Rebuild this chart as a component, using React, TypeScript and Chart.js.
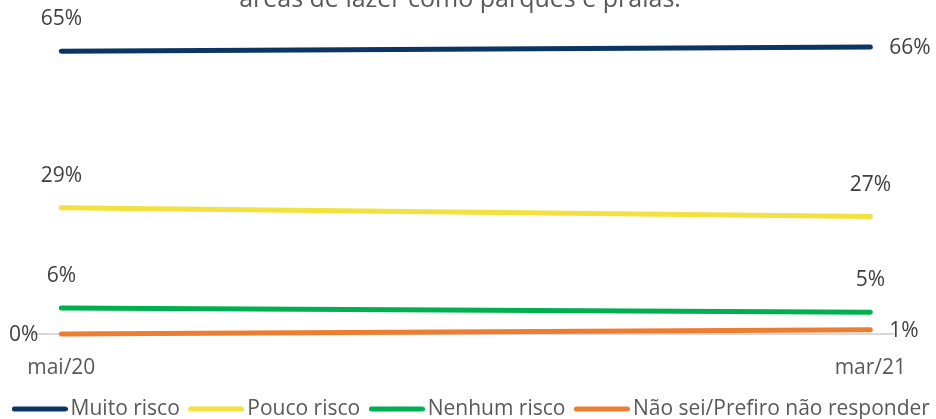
import React, { useEffect, useRef } from 'react';
import { Chart, registerables } from 'chart.js';

Chart.register(...registerables);

const periods = ['mai/20', 'mar/21'];
const muitoRisco = [65, 66];
const poucoRisco = [29, 27];
const nenhumRisco = [6, 5];
const naoSei = [0, 1];
const seriesNames = ['Muito risco', 'Pouco risco', 'Nenhum risco', 'Não sei/Prefiro não responder'];
const titleText = 'áreas de lazer como parques e praias.';

const seriesColors = ['#0b3563', '#f2e13f', '#00b050', '#ed7d31'];
const labelPositions = [
  ['top', 'right'],
  ['top', 'top'],
  ['top', 'top'],
  ['left', 'right'],
];

const FONT = '"Open Sans", "DejaVu Sans", sans-serif';

function makeSwatch(color: string) {
  const c = document.createElement('canvas');
  c.width = 56;
  c.height = 6;
  const g = c.getContext('2d')!;
  g.strokeStyle = color;
  g.lineWidth = 5;
  g.lineCap = 'round';
  g.beginPath();
  g.moveTo(2.5, 3);
  g.lineTo(53.5, 3);
  g.stroke();
  return c;
}

const titlePlugin = {
  id: 'cutTitle',
  afterDraw(chart: any) {
    const ctx = chart.ctx;
    ctx.save();
    ctx.font = `25px ${FONT}`;
    ctx.fillStyle = '#595959';
    ctx.textAlign = 'center';
    ctx.textBaseline = 'alphabetic';
    ctx.fillText(titleText, 460, 7);
    ctx.restore();
  },
};

const labelPlugin = {
  id: 'pointLabels',
  afterDatasetsDraw(chart: any) {
    const ctx = chart.ctx;
    ctx.save();
    ctx.font = `21px ${FONT}`;
    ctx.fillStyle = '#404040';
    ctx.textBaseline = 'middle';
    chart.data.datasets.forEach((ds: any, di: number) => {
      const meta = chart.getDatasetMeta(di);
      meta.data.forEach((pt: any, i: number) => {
        const v = ds.data[i].y;
        const pos = labelPositions[di][i];
        let x = pt.x;
        let y = pt.y;
        if (pos === 'top') {
          ctx.textAlign = 'center';
          y -= 32;
        } else if (pos === 'right') {
          ctx.textAlign = 'left';
          x += 19;
          y += 1;
        } else {
          ctx.textAlign = 'right';
          x -= 23;
          y += 1;
        }
        ctx.fillText(`${v}%`, x, y);
      });
    });
    ctx.restore();
  },
};

export default function App() {
  const ref = useRef<HTMLCanvasElement | null>(null);

  useEffect(() => {
    if (!ref.current) return;
    Chart.defaults.font.family = FONT;
    const seriesValues = [muitoRisco, poucoRisco, nenhumRisco, naoSei];
    const chart = new Chart(ref.current, {
      type: 'line',
      data: {
        datasets: seriesValues.map((vals, si) => ({
          label: seriesNames[si],
          data: vals.map((v, i) => ({ x: i, y: v })),
          borderColor: seriesColors[si],
          backgroundColor: seriesColors[si],
          borderWidth: 5,
          borderCapStyle: 'round',
          pointStyle: makeSwatch(seriesColors[si]),
          pointRadius: 0,
          pointHoverRadius: 0,
          tension: 0,
          clip: false,
        })),
      },
      options: {
        responsive: false,
        animation: false,
        events: [],
        layout: { padding: { top: 29.5, left: -20, right: -33, bottom: 0 } },
        scales: {
          x: {
            type: 'linear',
            min: -0.035,
            max: 1.028,
            afterBuildTicks: (scale: any) => {
              scale.ticks = periods.map((_, i) => ({ value: i }));
            },
            afterFit: (scale: any) => {
              scale.height = 48.5;
            },
            ticks: {
              callback: (value: any) => periods[value as number] ?? '',
              color: '#595959',
              font: { size: 21, family: FONT },
              padding: 21,
              maxRotation: 0,
              autoSkip: false,
            },
            grid: { display: false, drawTicks: false },
            border: { display: true, color: '#d9d9d9', width: 2 },
          },
          y: {
            position: 'left',
            min: 0,
            max: 70,
            ticks: { display: false },
            grid: { display: false, drawTicks: false },
            border: { display: false },
            afterFit: (scale: any) => {
              scale.width = 53;
            },
          },
          y2: {
            position: 'right',
            min: 0,
            max: 70,
            ticks: { display: false },
            grid: { display: false, drawTicks: false },
            border: { display: false },
            afterFit: (scale: any) => {
              scale.width = 76;
            },
          },
        },
        plugins: {
          title: { display: false },
          tooltip: { enabled: false },
          legend: {
            display: true,
            position: 'bottom',
            maxHeight: 36.5,
            labels: {
              usePointStyle: true,
              pointStyleWidth: 41,
              padding: 16,
              color: '#595959',
              font: { size: 21, family: FONT },
            },
          },
        },
      } as any,
      plugins: [titlePlugin, labelPlugin],
    });
    return () => chart.destroy();
  }, []);

  return (
    <div style={{ position: 'absolute', left: 0, top: 0, width: 936, height: 419, background: '#ffffff' }}>
      <canvas ref={ref} width={936} height={419} style={{ display: 'block' }} />
    </div>
  );
}
